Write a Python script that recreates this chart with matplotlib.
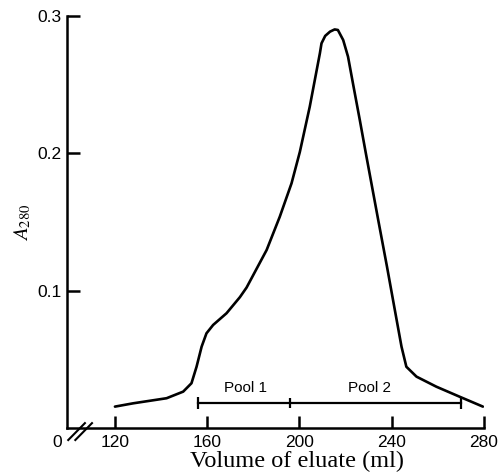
import numpy as np
import matplotlib.pyplot as plt

# elution profile
volume = [120.0, 127.9, 142.4, 149.6, 153.2, 155.4, 157.6, 159.7, 162.6, 168.4,
          174.2, 177.1, 185.8, 191.5, 196.6, 200.2, 204.5, 208.9, 209.6, 211.2,
          213.3, 215.3, 216.7, 219.0, 221.1, 223.5, 226.2, 228.8, 234.2, 238.0,
          241.4, 244.3, 246.4, 250.8, 259.4, 269.5, 279.6]
a280 = [0.0159, 0.0183, 0.0220, 0.0268, 0.0329, 0.0449, 0.0595, 0.0692, 0.0753, 0.0838,
        0.0955, 0.1025, 0.1298, 0.1540, 0.1783, 0.2011, 0.2340, 0.2729, 0.2801, 0.2855,
        0.2886, 0.2902, 0.2898, 0.2825, 0.2704, 0.2486, 0.2244, 0.2004, 0.1516, 0.1177,
        0.0862, 0.0595, 0.0449, 0.0377, 0.0304, 0.0231, 0.0159]

pool_edges = [156, 196, 270]
pool_names = ["Pool 1", "Pool 2"]
pool_label_x = [176.6, 230.5]

xticks = [120, 160, 200, 240, 280]
yticks = [0.1, 0.2, 0.3]

plt.rcParams['mathtext.fontset'] = 'stix'

fig = plt.figure(figsize=(5.01, 4.72), dpi=100)
ax = fig.add_axes([0.1337, 0.0922, 0.832, 0.874])

ax.plot(volume, a280, color='black', lw=1.9, solid_capstyle='round',
        solid_joinstyle='round')

# pool bar
bar_y = 0.0185
ax.plot([pool_edges[0], pool_edges[-1]], [bar_y, bar_y], color='black', lw=1.6)
ax.plot([pool_edges[0], pool_edges[-1]], [bar_y, bar_y], ls='none', marker='|',
        ms=9, mew=1.6, color='black')
ax.plot([pool_edges[1]], [bar_y], ls='none', marker='|', ms=7, mew=1.6, color='black')
for name, x in zip(pool_names, pool_label_x):
    ax.text(x, 0.0295, name, ha='center', va='center', fontsize=11,
            family='Liberation Sans')

ax.set_xlim(99.2, 280)
ax.set_ylim(0, 0.3)
ax.set_xticks(xticks)
ax.set_yticks(yticks)
ax.set_xticklabels([str(v) for v in xticks])
ax.set_yticklabels(['0.1', '0.2', '0.3'])
ax.tick_params(axis='both', direction='in', length=9, width=1.8,
               labelsize=12.5, pad=5)
ax.tick_params(axis='y', pad=4)
for lab in ax.get_xticklabels() + ax.get_yticklabels():
    lab.set_family('Liberation Sans')

for side in ['top', 'right']:
    ax.spines[side].set_visible(False)
for side in ['left', 'bottom']:
    ax.spines[side].set_linewidth(1.8)

# axis break marks and the 0 at the origin
for dx in [0.0, 0.017]:
    ax.plot([0.003 + dx, 0.043 + dx], [-0.028, 0.013], color='black', lw=1.5,
            transform=ax.transAxes, clip_on=False)
ax.text(-0.012, -0.033, '0', ha='right', va='center', fontsize=12.5,
        family='Liberation Sans', transform=ax.transAxes)

ax.set_xlabel('Volume of eluate (ml)', fontsize=17.5, family='Liberation Serif',
              labelpad=0, x=0.551)
ax.set_ylabel(r'$\mathit{A}_{280}$', fontsize=15, labelpad=3)

fig.savefig('out.png', dpi=100)
